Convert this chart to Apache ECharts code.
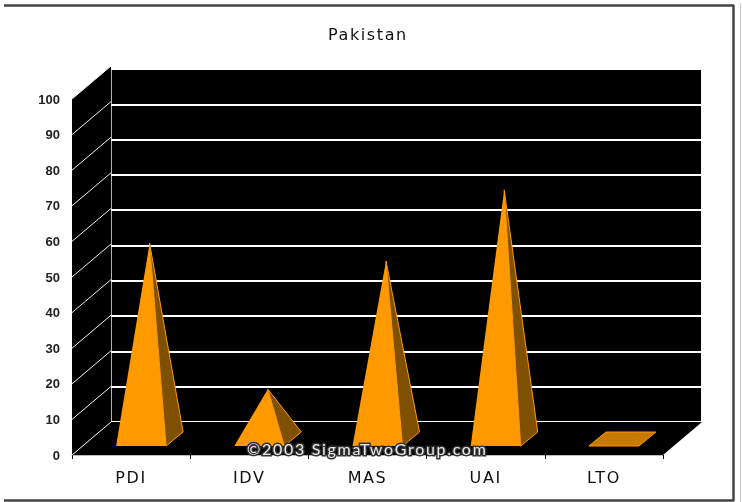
<!DOCTYPE html>
<html><head><meta charset="utf-8">
<style>html,body{margin:0;padding:0;background:#fff}#c{width:742px;height:502px;filter:blur(0.45px)}
#c text[style*="DejaVu"]{letter-spacing:1.6px}
#c text[style*="Lato"]{letter-spacing:1.7px}
</style>
<script src="https://cdn.jsdelivr.net/npm/echarts@6/dist/echarts.min.js"></script>
</head><body><div id="c"></div>
<script>
const categories = ['PDI','IDV','MAS','UAI','LTO'];
const values = [55,14,50,70,0];
const yTicks = [0,10,20,30,40,50,60,70,80,90,100];
const title = 'Pakistan';
const watermark = '\u00A92003 SigmaTwoGroup.com';

const DX = 39, DY = -33;           // depth of the 3D box
const ORANGE = '#ff9900', DARK = '#7f5000', FLAT = '#c87a00';
const chart = echarts.init(document.getElementById('c'), null, {renderer:'svg'});

function wallItem(params, api){
  const y0 = api.coord([0,0])[1];
  const top = api.coord([0,100])[1];
  const right = params.coordSys.x + params.coordSys.width;
  const left = params.coordSys.x;
  return {type:'group', children:[
    {type:'polygon', shape:{points:[[left,top],[left+DX,top+DY],[left+DX,y0+DY],[left,y0]]}, style:{fill:'#000'}},
    {type:'polygon', shape:{points:[[left,y0],[right,y0],[right+DX,y0+DY],[left+DX,y0+DY]]}, style:{fill:'#000'}}
  ]};
}
function diagItem(params, api){
  const v = api.value(0);
  const left = params.coordSys.x;
  const y = api.coord([0,v])[1];
  return {type:'line', shape:{x1:left,y1:y,x2:left+DX,y2:y+DY}, style:{stroke:'#f0f0f0',lineWidth:1}};
}
function pyramidItem(params, api){
  const c = api.coord([api.value(0), 0]);
  const v = api.value(1);
  const cx = c[0], y0 = c[1];
  const hw = 25, fx = 10, fy = -9, bx = 27, by = -23, mx = 18.5, my = -16;
  const unit = y0 - api.coord([0,1])[1];
  const fl = [cx-hw+fx, y0+fy], fr = [cx+hw+fx, y0+fy];
  const br = [cx+hw+bx, y0+by], bl = [cx-hw+bx, y0+by];
  if (v === 0) {
    return {type:'polygon', shape:{points:[fl,fr,br,bl]}, style:{fill:FLAT, stroke:ORANGE, lineWidth:1}};
  }
  const apex = [cx+mx, y0+my-v*unit];
  return {type:'group', children:[
    {type:'polygon', shape:{points:[fr,br,apex]}, style:{fill:DARK, stroke:ORANGE, lineWidth:1}},
    {type:'polygon', shape:{points:[fl,fr,apex]}, style:{fill:ORANGE}}
  ]};
}

chart.setOption({
  animation:false,
  backgroundColor:'#fff',
  title:{text:title,left:323,top:21,
    textStyle:{fontFamily:'DejaVu Sans',fontSize:16,fontWeight:'normal',color:'#111'}},
  grid:[
    {left:72,top:99,width:591,height:356,show:false},
    {left:111,top:69,width:590,height:353,show:true,backgroundColor:'#000',borderWidth:0}
  ],
  xAxis:[
    {gridIndex:0,type:'category',data:categories,boundaryGap:true,
      axisLine:{lineStyle:{color:'#bbb',width:1}},
      axisTick:{show:true,length:4,lineStyle:{color:'#000'}},
      axisLabel:{margin:14,fontFamily:'DejaVu Sans',fontSize:16,color:'#111'}},
    {gridIndex:1,type:'category',data:categories,show:false}
  ],
  yAxis:[
    {gridIndex:0,type:'value',min:0,max:100,interval:10,
      axisLine:{show:false},axisTick:{show:false},splitLine:{show:false},
      axisLabel:{margin:12,fontFamily:'Liberation Sans',fontWeight:'bold',fontSize:13,color:'#222'}},
    {gridIndex:1,type:'value',min:0,max:100,interval:10,
      axisLine:{show:true,onZero:false,lineStyle:{color:'#f0f0f0',width:1.5}},
      axisTick:{show:false},axisLabel:{show:false},
      splitLine:{show:true,lineStyle:{color:'#fff',width:2}}}
  ],
  series:[
    {type:'custom',name:'walls',xAxisIndex:0,yAxisIndex:0,data:[[0]],silent:true,z:1,renderItem:wallItem},
    {type:'custom',name:'wallLines',xAxisIndex:0,yAxisIndex:0,data:yTicks.map(t=>[t]),silent:true,z:3,
      encode:{y:0},renderItem:diagItem},
    {type:'custom',name:'Pakistan',xAxisIndex:0,yAxisIndex:0,z:5,
      data:categories.map((c,i)=>[i,values[i]]),encode:{x:0,y:1},renderItem:pyramidItem}
  ],
  graphic:[
    {type:'line',z:50,shape:{x1:4,y1:5.5,x2:734,y2:5.5},style:{stroke:'#444',lineWidth:2.5}},
    {type:'line',z:50,shape:{x1:733.5,y1:5,x2:733.5,y2:501},style:{stroke:'#444',lineWidth:2.5}},
    {type:'line',z:50,shape:{x1:4,y1:500.5,x2:734,y2:500.5},style:{stroke:'#444',lineWidth:2.5}},
    {type:'line',z:50,shape:{x1:740.5,y1:3,x2:740.5,y2:502},style:{stroke:'#ccc',lineWidth:1}},
    {type:'text',z:60,x:247,y:440,style:{text:watermark,fontFamily:'Lato, Liberation Sans',fontSize:16,
      fill:'#e8e8e8',stroke:'#333',lineWidth:3,strokeFirst:true}}
  ]
});
</script></body></html>
